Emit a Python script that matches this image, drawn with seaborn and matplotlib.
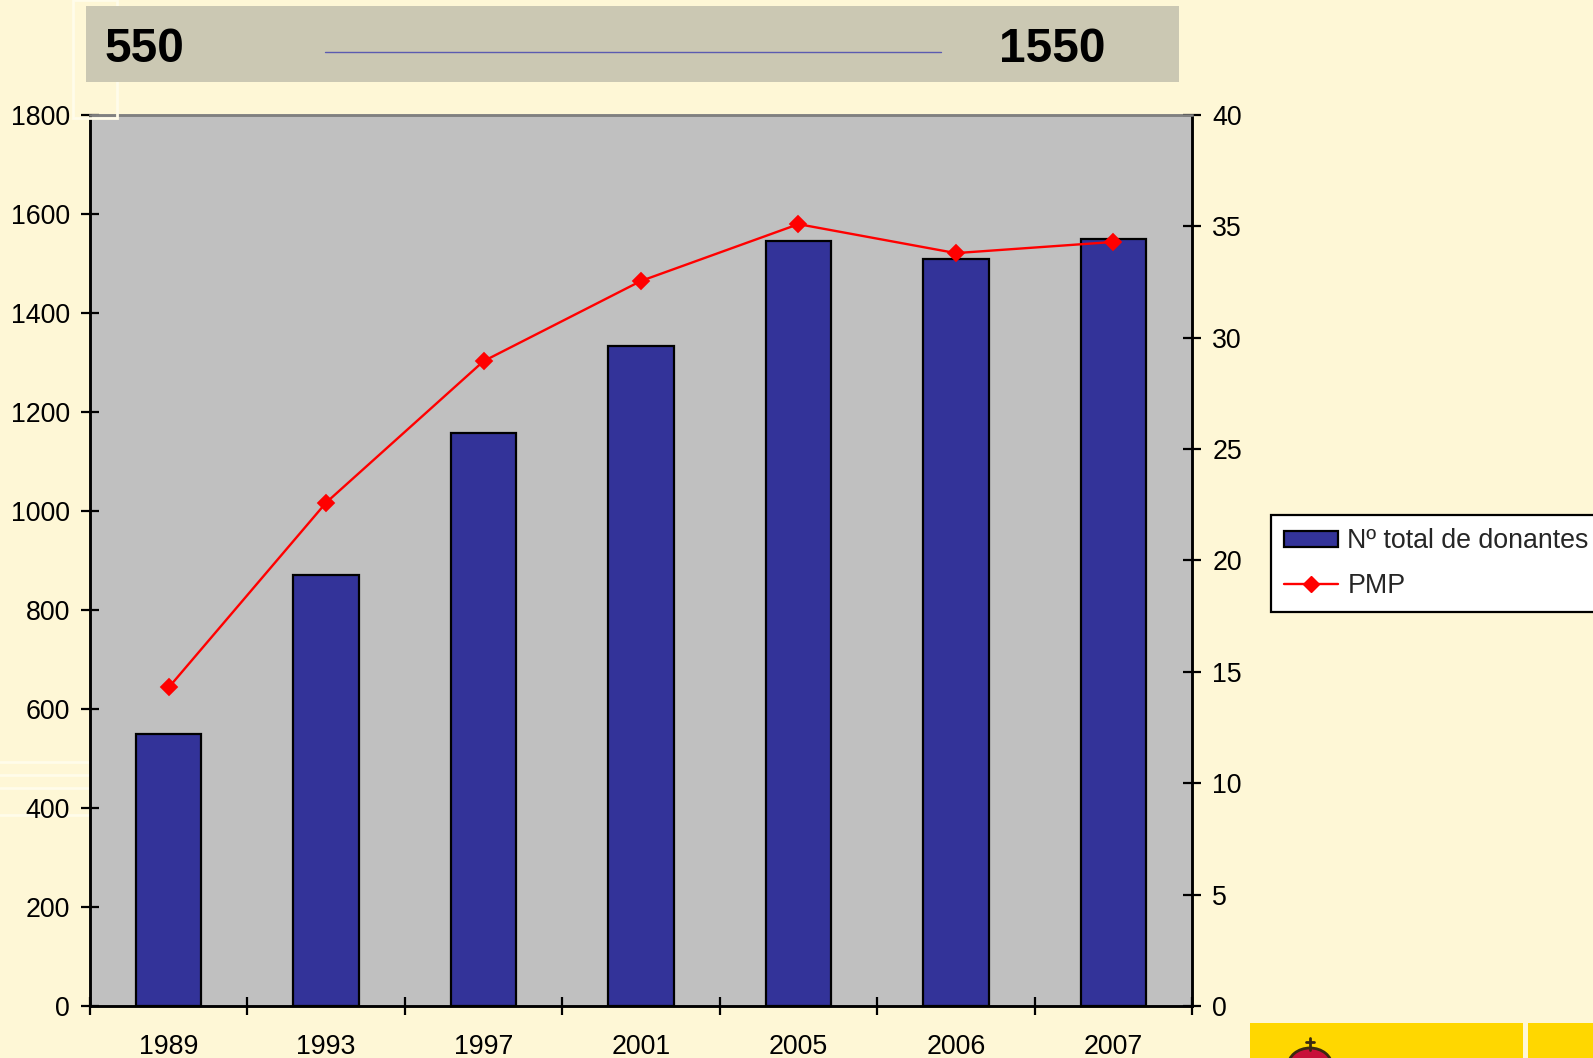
import numpy as np
import pandas as pd
import matplotlib
matplotlib.use("Agg")
import matplotlib.pyplot as plt
import seaborn as sns
from matplotlib.patches import Rectangle, Patch, Ellipse
from matplotlib.lines import Line2D

# ---- data ----
years = ["1989", "1993", "1997", "2001", "2005", "2006", "2007"]
donantes = [550, 870, 1157, 1333, 1546, 1510, 1550]
pmp = [14.3, 22.6, 28.95, 32.55, 35.1, 33.8, 34.3]
left_ticks = [0, 200, 400, 600, 800, 1000, 1200, 1400, 1600, 1800]
right_ticks = [0, 5, 10, 15, 20, 25, 30, 35, 40]
banner_left = "550"
banner_right = "1550"
legend_labels = ["Nº total de donantes", "PMP"]

df = pd.DataFrame({"year": years, "donantes": donantes, "pmp": pmp})

sns.set_theme(style="ticks")
plt.rcParams["font.family"] = ["Liberation Sans", "DejaVu Sans"]

W, H = 1593, 1058
BG = "#FEF7D6"
FS = 19.3
fig = plt.figure(figsize=(W / 100, H / 100), dpi=100, facecolor=BG)

def fx(px):
    return px / W

def fy(py):
    return 1 - py / H

# faint watermark shapes on the left
fig.patches.append(Rectangle((fx(73), fy(118)), fx(117) - fx(73), fy(0) - fy(118),
                             transform=fig.transFigure, facecolor="none",
                             edgecolor="#FFFCEA", lw=2, zorder=0))
for py in [762, 775, 788, 815]:
    fig.add_artist(Line2D([0, fx(88)], [fy(py), fy(py)], transform=fig.transFigure,
                          color="#FFFCEA", lw=2, zorder=0))

# banner
fig.patches.append(Rectangle((fx(86), fy(82)), fx(1179) - fx(86), fy(6) - fy(82),
                             transform=fig.transFigure, facecolor="#CBC8B3",
                             edgecolor="none", zorder=1))
fig.text(fx(105), fy(62), banner_left, fontsize=34.5, fontweight="bold",
         ha="left", va="baseline", color="black", zorder=2)
fig.text(fx(999), fy(62), banner_right, fontsize=34.5, fontweight="bold",
         ha="left", va="baseline", color="black", zorder=2)
fig.add_artist(Line2D([fx(325), fx(941)], [fy(52), fy(52)], transform=fig.transFigure,
                      color="#5B5BB0", lw=1, zorder=2))

# yellow logo blocks bottom right
fig.patches.append(Rectangle((fx(1250), 0), fx(1523) - fx(1250), fy(1023),
                             transform=fig.transFigure, facecolor="#FFD700",
                             edgecolor="none", zorder=1))
fig.patches.append(Rectangle((fx(1528), 0), 1 - fx(1528), fy(1023),
                             transform=fig.transFigure, facecolor="#FFD700",
                             edgecolor="none", zorder=1))
# small crown hint
fig.patches.append(Ellipse((fx(1310), fy(1066)), fx(44), 36 / H,
                           transform=fig.transFigure, facecolor="#C8103A",
                           edgecolor="#3A2A10", lw=2, zorder=2))
fig.add_artist(Line2D([fx(1310), fx(1310)], [fy(1038), fy(1050)], transform=fig.transFigure,
                      color="#3A2A10", lw=2, zorder=3))
fig.add_artist(Line2D([fx(1306), fx(1314)], [fy(1042), fy(1042)], transform=fig.transFigure,
                      color="#3A2A10", lw=2, zorder=3))

# main axes
ax = fig.add_axes([fx(90), fy(1006), fx(1192) - fx(90), fy(115) - fy(1006)])
ax.set_facecolor("#C0C0C0")

sns.barplot(data=df, x="year", y="donantes", ax=ax, color="#333399",
            saturation=1, width=0.415, edgecolor="black", linewidth=1.6, zorder=2)

ax2 = ax.twinx()
sns.pointplot(data=df, x="year", y="pmp", ax=ax2, color="#FF0000",
              markers="D", linestyles="-", linewidth=1.7, markersize=8, zorder=3)

ax.set_xlim(-0.5, len(years) - 0.5)
ax2.set_xlim(-0.5, len(years) - 0.5)
ax.set_ylim(0, 1800)
ax2.set_ylim(0, 40)

ax.set_xlabel("")
ax.set_ylabel("")
ax2.set_xlabel("")
ax2.set_ylabel("")

# x ticks: marks at category boundaries, labels at centres
ax.set_xticks(np.arange(len(years) + 1) - 0.5)
ax.set_xticklabels([])
ax.set_xticks(np.arange(len(years)), minor=True)
ax.set_xticklabels(years, minor=True)
ax.tick_params(axis="x", which="major", direction="inout", length=13, width=1.6, color="black")
ax.tick_params(axis="x", which="minor", length=0, pad=20, labelsize=FS, labelcolor="black")

ax.set_yticks(left_ticks)
ax.set_yticklabels([str(t) for t in left_ticks])
ax.tick_params(axis="y", direction="inout", length=13, width=1.6, color="black",
               pad=8, labelsize=FS, labelcolor="black")

ax2.set_yticks(right_ticks)
ax2.set_yticklabels([str(t) for t in right_ticks])
ax2.tick_params(axis="y", direction="inout", length=13, width=1.6, color="black",
                pad=8, labelsize=FS, labelcolor="black")
ax2.tick_params(axis="x", which="both", length=0, labelbottom=False)

for a in (ax, ax2):
    a.spines["left"].set_color("black")
    a.spines["bottom"].set_color("black")
    a.spines["right"].set_color("black")
    a.spines["top"].set_color("#808080")
    for s in a.spines.values():
        s.set_linewidth(1.8)
        s.set_visible(True)
    a.grid(False)

# legend
handles = [Patch(facecolor="#333399", edgecolor="black", linewidth=1.6),
           Line2D([], [], color="#FF0000", lw=1.7, marker="D", markersize=8)]
leg = fig.legend(handles, legend_labels, loc="upper left",
                 bbox_to_anchor=(fx(1271), fy(515)), bbox_transform=fig.transFigure,
                 borderaxespad=0, fontsize=FS, frameon=True, fancybox=False,
                 framealpha=1, edgecolor="black", facecolor="white",
                 handlelength=2.0, handleheight=0.55, handletextpad=0.35,
                 borderpad=0.5, labelspacing=0.68)
leg.get_frame().set_linewidth(1.6)

fig.savefig("out.png", dpi=100, facecolor=BG)
